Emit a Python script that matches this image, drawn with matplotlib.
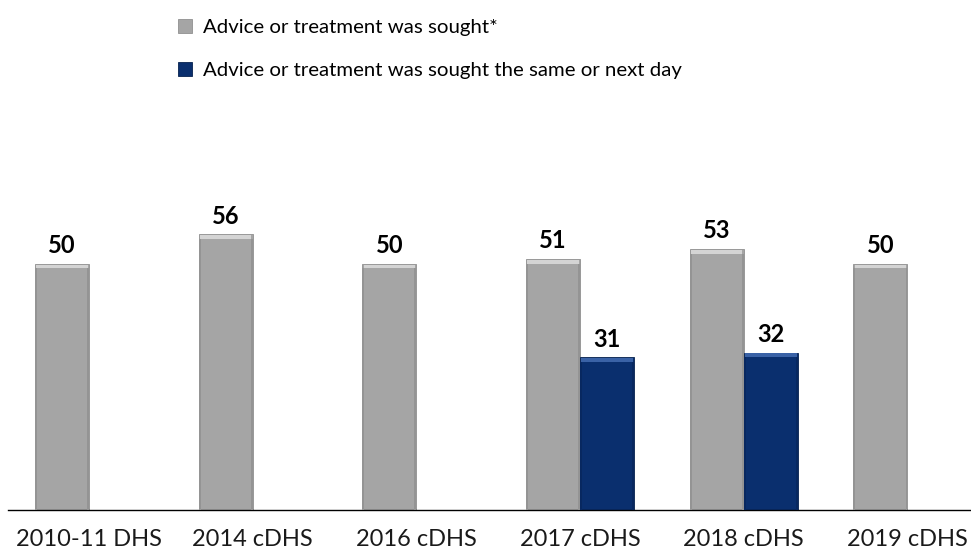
import numpy as np
import matplotlib
matplotlib.use("Agg")
import matplotlib.pyplot as plt
from matplotlib.patches import Rectangle

categories = ["2010-11 DHS", "2014 cDHS", "2016 cDHS", "2017 cDHS", "2018 cDHS", "2019 cDHS"]
sought = [50, 56, 50, 51, 53, 50]
sought_same_next = [np.nan, np.nan, np.nan, 31, 32, np.nan]
series_labels = ["Advice or treatment was sought*",
                 "Advice or treatment was sought the same or next day"]

GREY = "#A5A5A5"
BLUE = "#0A2F6E"
FONT = "Lato"

W, H = 971, 555
fig = plt.figure(figsize=(W / 100, H / 100), dpi=100)
ax = fig.add_axes([8 / W, (H - 510) / H, 1 - 8 / W, 410 / H])

x = np.arange(len(categories))
bw = 0.33
b1 = ax.bar(x - bw / 2, sought, bw, color=GREY, edgecolor="#909090", linewidth=0.6,
            label=series_labels[0], zorder=2)
b2 = ax.bar(x + bw / 2, sought_same_next, bw, color=BLUE, edgecolor="#06224F", linewidth=0.6,
            label=series_labels[1], zorder=2)

# soft bevel: light band along the top, darker strips down the sides
for bars, hi, side in ((b1, "#D4D4D4", "#949494"), (b2, "#3A62A6", "#082860")):
    for r in bars:
        h = r.get_height()
        if not np.isfinite(h):
            continue
        x0, w = r.get_x(), r.get_width()
        ax.add_patch(Rectangle((x0 + 0.008, h - 0.9), w - 0.016, 0.75,
                               facecolor=hi, edgecolor="none", zorder=3))
        for xs in (x0, x0 + w - 0.012):
            ax.add_patch(Rectangle((xs, 0), 0.012, h - 0.9,
                                   facecolor=side, edgecolor="none", zorder=3))

for bars, vals in ((b1, sought), (b2, sought_same_next)):
    for r, v in zip(bars, vals):
        if not np.isfinite(v):
            continue
        ax.annotate(f"{v:.0f}", (r.get_x() + r.get_width() / 2, v),
                    xytext=(0, 5), textcoords="offset points", ha="center", va="bottom",
                    fontsize=17, fontweight="bold", family=FONT, color="black")

ax.set_xlim((8 - 89) / 163.7, (971 - 89) / 163.7)
ax.set_ylim(0, 410 / 4.92)
ax.set_xticks(x)
ax.set_xticklabels(categories, fontsize=17, family=FONT, color="#1a1a1a")
ax.tick_params(axis="x", length=0, pad=14)
ax.set_yticks([])
for s in ("top", "right", "left"):
    ax.spines[s].set_visible(False)
ax.spines["bottom"].set_color("black")
ax.spines["bottom"].set_linewidth(1.0)

fig.legend(handles=[b1, b2], loc="upper left", bbox_to_anchor=(170 / W, 1 - 11 / H),
           frameon=False, prop={"family": FONT, "size": 14.7},
           handlelength=0.7, handleheight=0.7, handletextpad=0.5, labelspacing=1.25,
           borderaxespad=0, labelcolor="black")

fig.savefig("out.png", dpi=100, facecolor="white")
